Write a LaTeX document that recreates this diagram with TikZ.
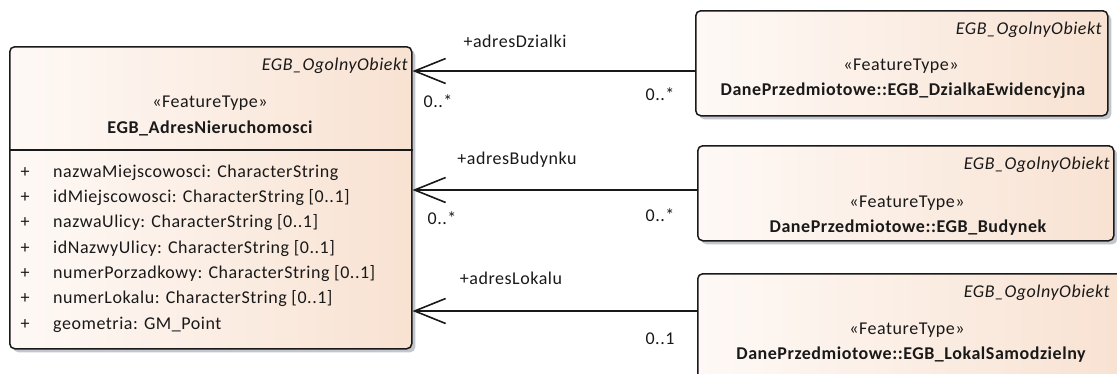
\documentclass[tikz,border=0pt]{standalone}
\usepackage{fontspec}
\setmainfont{Carlito}[LetterSpace=3]
\usetikzlibrary{arrows.meta,shadows}
\definecolor{boxL}{RGB}{254,249,246}
\definecolor{boxR}{RGB}{248,226,210}
\definecolor{shad}{RGB}{196,198,206}
\definecolor{ink}{RGB}{25,25,25}
\begin{document}
\begin{tikzpicture}[x=1pt,y=-1pt,
  cls/.style={draw=ink, line width=1.5pt, rounded corners=5pt, left color=boxL, right color=boxR,
    drop shadow={shadow xshift=3.5pt, shadow yshift=-3.5pt, fill=shad, opacity=1},
    anchor=north west, inner sep=0pt},
  txt/.style={font=\fontsize{18}{21}\selectfont, inner sep=0pt, text=ink},
  itx/.style={txt, font=\fontsize{18}{21}\selectfont\itshape, anchor=mid east},
  bld/.style={txt, font=\fontsize{18}{21}\selectfont\bfseries, anchor=mid},
  ster/.style={txt, anchor=mid},
  attr/.style={txt, anchor=mid west},
  plus/.style={txt, anchor=mid},
  lbl/.style={txt, anchor=mid},
  assoc/.style={draw=ink, line width=1.6pt, -{Straight Barb[length=31pt,width=25pt,line width=1.6pt]}}
]
\useasboundingbox (0,0) rectangle (1117,373);

% main class
\node[cls, minimum width=402pt, minimum height=302pt] (a) at (9,46) {};
\draw[ink, line width=1.5pt] (a.west |- 0,150) coordinate (sepL) -- (a.east |- 0,150) coordinate (sepR);
\node[itx] (a1) at (408,68) {EGB\_OgolnyObiekt};
\node[ster] (a2) at (210,105) {«FeatureType»};
\node[bld] (a3) at (210,131) {EGB\_AdresNieruchomosci};
\foreach \t [count=\i from 0] in {nazwaMiejscowosci: CharacterString,
  idMiejscowosci: CharacterString [0..1],
  nazwaUlicy: CharacterString [0..1],
  idNazwyUlicy: CharacterString [0..1],
  numerPorzadkowy: CharacterString [0..1],
  numerLokalu: CharacterString [0..1],
  geometria: GM\_Point}{
  \node[plus] (p\i) at (25,175+25.3*\i) {+};
  \node[attr] (t\i) at (53,175+25.3*\i) {\t};
}

% right classes
\node[cls, minimum width=412pt, minimum height=105pt] (b1) at (695,10) {};
\node[itx] (b1a) at (1102,32) {EGB\_OgolnyObiekt};
\node[ster] (b1b) at (901,68) {«FeatureType»};
\node[bld] (b1c) at (903,93) {DanePrzedmiotowe::EGB\_DzialkaEwidencyjna};

\node[cls, minimum width=416pt, minimum height=95pt] (b2) at (697,145) {};
\node[itx] (b2a) at (1110,167) {EGB\_OgolnyObiekt};
\node[ster] (b2b) at (907,205) {«FeatureType»};
\node[bld] (b2c) at (908,230) {DanePrzedmiotowe::EGB\_Budynek};

\node[cls, minimum width=426pt, minimum height=120pt] (b3) at (697,273) {};
\node[itx] (b3a) at (1110,295) {EGB\_OgolnyObiekt};
\node[ster] (b3b) at (907,332) {«FeatureType»};
\node[bld] (b3c) at (911,357) {DanePrzedmiotowe::EGB\_LokalSamodzielny};

% associations
\coordinate (y1) at (0,71);
\coordinate (y2) at (0,190);
\coordinate (y3) at (0,311);
\draw[assoc] (y1 -| b1.west) -- (y1 -| a.east);
\draw[assoc] (y2 -| b2.west) -- (y2 -| a.east);
\draw[assoc] (y3 -| b3.west) -- (y3 -| a.east);

\node[lbl] (r1) at (515,45) {+adresDzialki};
\node[lbl] (m1l) at (438,105) {0..*};
\node[lbl] (m1r) at (660,98) {0..*};
\node[lbl] (r2) at (517,162) {+adresBudynku};
\node[lbl] (m2l) at (442,222) {0..*};
\node[lbl] (m2r) at (660,219) {0..*};
\node[lbl] (r3) at (511,282) {+adresLokalu};
\node[lbl] (m3r) at (660,342) {0..1};
\end{tikzpicture}
\end{document}
